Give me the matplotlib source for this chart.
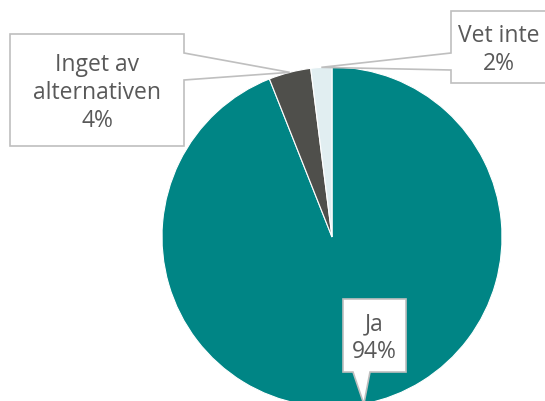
import numpy as np
import matplotlib
matplotlib.use("Agg")
import matplotlib.pyplot as plt
from matplotlib.patches import Polygon

# data
labels = ["Ja", "Inget av\nalternativen", "Vet inte"]
values = [94, 4, 2]
colors = ["#008585", "#4f4f4b", "#e1eef1"]

W, H = 545, 401
fig = plt.figure(figsize=(W / 100, H / 100), dpi=100)
ax = fig.add_axes([0, 0, 1, 1])
ax.set_xlim(0, W)
ax.set_ylim(0, H)
ax.axis("off")

cx, cy, R = 332, H - 237, 170
wedges, _ = ax.pie(values, colors=colors, startangle=90, counterclock=False,
                   center=(cx, cy), radius=R,
                   wedgeprops=dict(edgecolor="white", linewidth=0.8))
ax.set_xlim(0, W)
ax.set_ylim(0, H)
ax.set_aspect("equal")

# callout boxes in pixel coords (left, right, top, bottom) + side of tail
boxes = [
    (343, 406, 299, 372, "bottom", (353, 370)),
    (10, 184, 34, 146, "right", (53, 80)),
    (451, 546, 11, 83, "left", (53, 70)),
]


def py(y):
    return H - y


for w, lab, v, (l, r, t, b, side, (a1, a2)) in zip(wedges, labels, values, boxes):
    ang = np.deg2rad((w.theta1 + w.theta2) / 2)
    tip = (cx + R * np.cos(ang), cy + R * np.sin(ang))
    if side == "bottom":
        pts = [(l, py(t)), (r, py(t)), (r, py(b)), (a2, py(b)), tip, (a1, py(b)), (l, py(b))]
    elif side == "right":
        pts = [(l, py(t)), (r, py(t)), (r, py(a1)), tip, (r, py(a2)), (r, py(b)), (l, py(b))]
    else:
        pts = [(l, py(t)), (r, py(t)), (r, py(b)), (l, py(b)), (l, py(a2)), tip, (l, py(a1))]
    ax.add_patch(Polygon(pts, closed=True, facecolor="white", edgecolor="#bfbfbf",
                         linewidth=1.2, zorder=5, clip_on=False))
    ax.text((l + r) / 2, py((t + b) / 2 + 3), f"{lab}\n{v}%", ha="center", va="center",
            fontsize=16.5, color="#595959", family="Open Sans", linespacing=1.22, zorder=6)

fig.savefig("out.png", dpi=100)
